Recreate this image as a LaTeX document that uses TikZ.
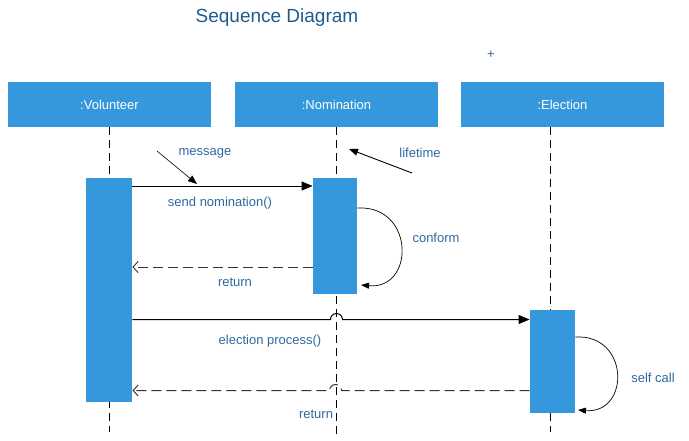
\documentclass[tikz,border=0pt]{standalone}
\usepackage{fontspec}
\setmainfont{Liberation Sans}
\usetikzlibrary{arrows.meta}
\definecolor{boxblue}{RGB}{53,152,220}
\definecolor{txtblue}{RGB}{46,104,160}
\definecolor{titleblue}{RGB}{31,90,140}

\begin{document}
\begin{tikzpicture}[x=1pt,y=-1pt,line width=0.9pt,
    obj/.style={fill=boxblue,text=white,minimum width=203pt,minimum height=45pt,inner sep=0pt,font=\fontsize{13}{15}\selectfont},
    bar/.style={fill=boxblue,inner sep=0pt,anchor=north},
    lbl/.style={text=txtblue,font=\fontsize{13}{15}\selectfont},
    life/.style={dash pattern=on 8pt off 5pt},
    call/.style={-{Triangle[length=11pt,width=9pt]}},
    ret/.style={black!80,dash pattern=on 10pt off 5pt,-{Straight Barb[length=5pt,width=11pt]}}]
    \useasboundingbox (0,0) rectangle (689,440);
    \node[titleblue,font=\fontsize{19}{22}\selectfont] (title) at (277,18) {Sequence Diagram};
    \node[txtblue,font=\fontsize{13}{15}\selectfont] (plus) at (491,55) {+};
    \node[obj] (vol) at (109.5,104.5) {:Volunteer};
    \node[obj] (nom) at (336.5,104.5) {:Nomination};
    \node[obj] (elec) at (562.5,104.5) {:Election};
    \coordinate (volend) at (109,432);
    \coordinate (nomend) at (336,438);
    \coordinate (elecend) at (550,432);
    \draw[life] (vol.south -| volend) -- (volend);
    \draw[life] (nom.south -| nomend) -- (nomend);
    \draw[life] (elec.south -| elecend) -- (elecend);
    \node[bar,minimum width=46pt,minimum height=224pt] (vbar) at (109,178) {};
    \node[bar,minimum width=44pt,minimum height=116pt] (nbar) at (335,178) {};
    \node[bar,minimum width=45pt,minimum height=103pt] (ebar) at (552.5,310) {};
    % send nomination
    \coordinate (s1) at (0,186);
    \draw[call] (vbar.east |- s1) -- (nbar.west |- s1);
    \node[lbl] (sendlbl) at (220,203) {send nomination()};
    \coordinate (msgtail) at (157,151);
    \coordinate (msghead) at (197,184);
    \draw[line width=0.6pt,-{Triangle[length=9pt,width=7pt]}] (msgtail) -- (msghead);
    \node[lbl] (msglbl) at (205,153) {message};
    \coordinate (lifetail) at (412,173);
    \coordinate (lifehead) at (349,149);
    \draw[-{Triangle[length=9pt,width=7pt]}] (lifetail) -- (lifehead);
    \node[lbl] (lifelbl) at (420,153) {lifetime};
    % conform
    \coordinate (c1) at (0,208);
    \coordinate (c2) at (361,285);
    \draw[line width=0.7pt,-{Triangle[length=8pt,width=6pt]}] (nbar.east |- c1) .. controls (415,205) and (415,290) .. (c2);
    \node[lbl] (conflbl) at (436,238) {conform};
    \coordinate (r1) at (0,267);
    \draw[ret] (nbar.west |- r1) -- (vbar.east |- r1);
    \node[lbl] (ret1lbl) at (235,282) {return};
    % election process
    \coordinate (e1) at (0,319.5);
    \draw[call,line width=1pt] (vbar.east |- e1) -- ++(198,0) arc[start angle=180,end angle=0,radius=6pt] -- (ebar.west |- e1);
    \node[lbl] (eleclbl) at (270,341) {election process()};
    \coordinate (sc1) at (0,337);
    \coordinate (sc2) at (578,410);
    \draw[line width=0.7pt,-{Triangle[length=8pt,width=6pt]}] (ebar.east |- sc1) .. controls (630,334) and (630,414) .. (sc2);
    \node[lbl] (selflbl) at (653,378) {self call};
    \coordinate (r2) at (0,390.5);
    \draw[ret,line width=1pt] (ebar.west |- r2) -- ++(-188,0) arc[start angle=0,end angle=180,radius=6pt] -- (vbar.east |- r2);
    \node[lbl] (ret2lbl) at (316,414) {return};
\end{tikzpicture}
\end{document}
